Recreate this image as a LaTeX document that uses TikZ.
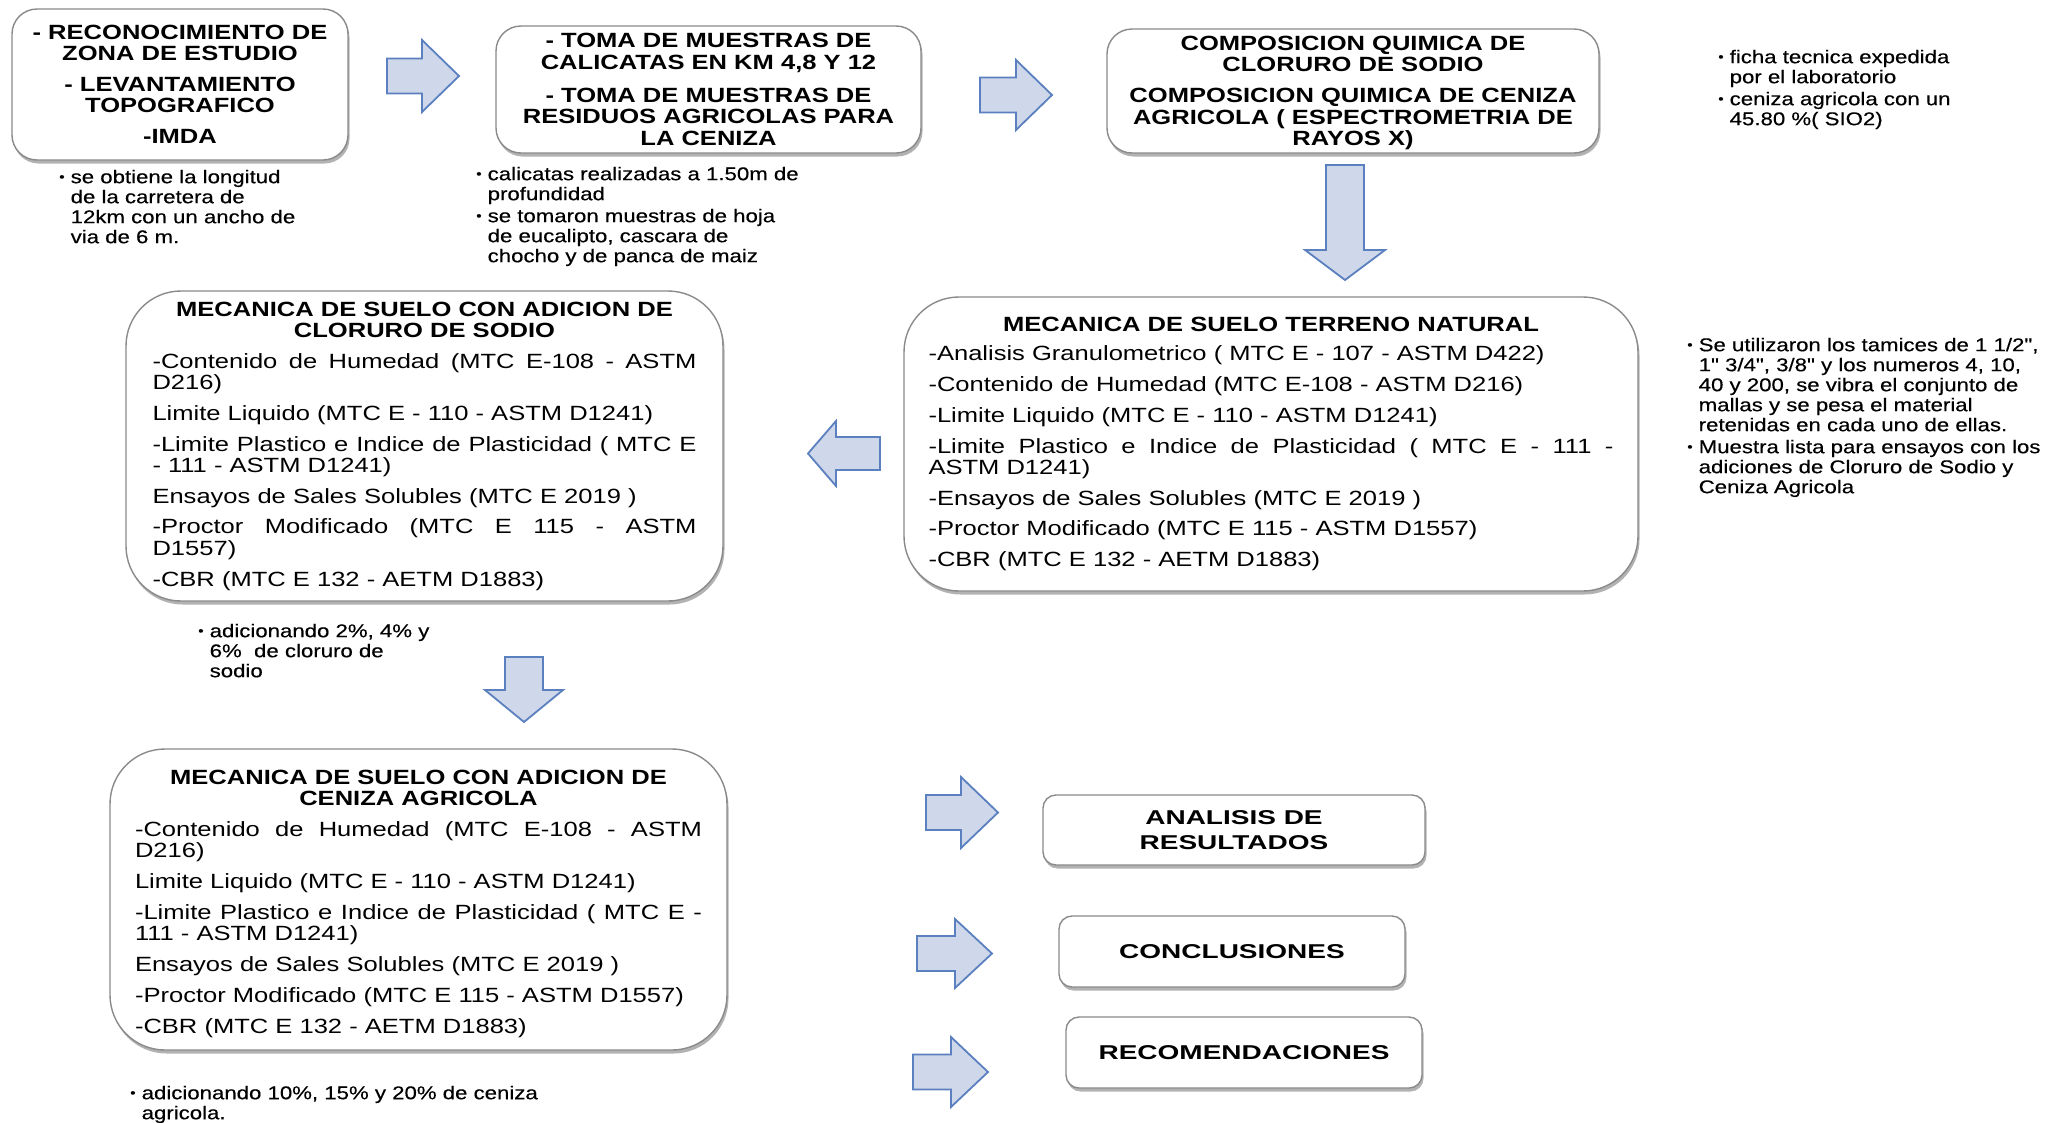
\documentclass[tikz,border=0pt]{standalone}
\usepackage{fontspec}
\setmainfont[FakeStretch=1.24]{Liberation Sans}
\newfontfamily\notefont[FakeStretch=1.2,FakeBold=0.4]{Liberation Sans}
\newfontfamily\widefont[FakeStretch=1.4]{Liberation Sans}
\usetikzlibrary{shadows}
\definecolor{arrfill}{HTML}{CFD8EA}
\definecolor{arrline}{HTML}{5B80BF}
\definecolor{boxline}{HTML}{8A8A8A}
\newcommand\np{\par\vspace{9.5pt}}
\newcommand\bulletbox{\hbox to 11.5pt{\raise2pt\hbox{\fontsize{13}{13}\selectfont\textbullet}\hfil}}
\newcommand\nitem[1]{\par\vskip 2pt\hangindent=11.5pt \hangafter=1 \noindent\bulletbox #1\par}
% right arrow: x0 y0 x1 y1 shaft head
\newcommand\rarrow[6]{\draw[blockarrow] (#1,{(#2+#4)/2-#5/2}) -- ({#3-#6},{(#2+#4)/2-#5/2}) -- ({#3-#6},#2) -- (#3,{(#2+#4)/2}) -- ({#3-#6},#4) -- ({#3-#6},{(#2+#4)/2+#5/2}) -- (#1,{(#2+#4)/2+#5/2}) -- cycle;}
% down arrow
\newcommand\darrow[6]{\draw[blockarrow] ({(#1+#3)/2-#5/2},#2) -- ({(#1+#3)/2+#5/2},#2) -- ({(#1+#3)/2+#5/2},{#4-#6}) -- (#3,{#4-#6}) -- ({(#1+#3)/2},#4) -- (#1,{#4-#6}) -- ({(#1+#3)/2-#5/2},{#4-#6}) -- cycle;}
% left arrow (x0 = tip)
\newcommand\larrow[6]{\draw[blockarrow] (#3,{(#2+#4)/2-#5/2}) -- ({#1+#6},{(#2+#4)/2-#5/2}) -- ({#1+#6},#2) -- (#1,{(#2+#4)/2}) -- ({#1+#6},#4) -- ({#1+#6},{(#2+#4)/2+#5/2}) -- (#3,{(#2+#4)/2+#5/2}) -- cycle;}
\tikzset{
 blockarrow/.style={draw=arrline, fill=arrfill, line width=1.8pt, line join=miter},
 box/.style={draw=boxline, line width=1.4pt, fill=white, inner sep=0pt,
   drop shadow={shadow xshift=1.5pt, shadow yshift=-3.5pt, opacity=0.3, fill=black}},
 topbox/.style={box, rounded corners=25pt, align=center, font=\fontsize{20.6}{21.3}\selectfont\bfseries},
 bigbox/.style={box, rounded corners=55pt, align=justify, font=\fontsize{20.6}{21.3}\selectfont},
 endbox/.style={box, rounded corners=13pt, align=center, font=\widefont\fontsize{20}{24.5}\selectfont\bfseries},
 note/.style={anchor=north west, inner sep=0pt, align=left, text width=430pt,
   font=\notefont\fontsize{18.5}{20}\selectfont},
}
\begin{document}
\begin{tikzpicture}[x=1pt,y=-1pt]
\fill[white] (0,0) rectangle (2072,1122);
\useasboundingbox (0,0) rectangle (2072,1122);

% top row
\node[topbox, minimum width=336pt, minimum height=151pt] (b1) at (180,84.5)
 {- RECONOCIMIENTO DE\\ZONA DE ESTUDIO\\[9.5pt]- LEVANTAMIENTO\\TOPOGRAFICO\\[9.5pt]-IMDA};
\node[topbox, minimum width=425pt, minimum height=127pt] (b2) at (708.5,89.5)
 {- TOMA DE MUESTRAS DE\\CALICATAS EN KM 4,8 Y 12\\[12pt]- TOMA DE MUESTRAS DE\\RESIDUOS AGRICOLAS PARA\\LA CENIZA};
\node[topbox, minimum width=492pt, minimum height=124pt] (b3) at (1353,91)
 {\rule{0pt}{18pt}COMPOSICION QUIMICA DE\\CLORURO DE SODIO\\[10pt]COMPOSICION QUIMICA DE CENIZA\\AGRICOLA ( ESPECTROMETRIA DE\\RAYOS X)};

% middle
\node[bigbox, minimum width=734pt, minimum height=294pt, text width=685pt] (b4) at (1271,444)
 {\hyphenpenalty=10000 \exhyphenpenalty=10000 {\centering\bfseries MECANICA DE SUELO TERRENO NATURAL\par}\par\vspace{8pt}
 -Analisis Granulometrico ( MTC E - 107 - ASTM D422)\np
 -Contenido de Humedad (MTC E-108 - ASTM D216)\np
 -Limite Liquido (MTC E - 110 - ASTM D1241)\np
 -Limite Plastico e Indice de Plasticidad ( MTC E - 111 -\linebreak ASTM D1241)\np
 -Ensayos de Sales Solubles (MTC E 2019 )\np
 -Proctor Modificado (MTC E 115 - ASTM D1557)\np
 -CBR (MTC E 132 - AETM D1883)};
\node[bigbox, minimum width=597pt, minimum height=310pt, text width=544pt] (b5) at (424.5,446)
 {\hyphenpenalty=10000 \exhyphenpenalty=10000 {\centering\bfseries MECANICA DE SUELO CON ADICION DE\\CLORURO DE SODIO\par}\np
 -Contenido de Humedad (MTC E-108 - ASTM\linebreak D216)\np
 Limite Liquido (MTC E - 110 - ASTM D1241)\np
 -Limite Plastico e Indice de Plasticidad ( MTC E\linebreak - 111 - ASTM D1241)\np
 Ensayos de Sales Solubles (MTC E 2019 )\np
 -Proctor Modificado (MTC E 115 - ASTM\linebreak D1557)\np
 -CBR (MTC E 132 - AETM D1883)};
\node[bigbox, minimum width=617pt, minimum height=301pt, text width=567pt] (b6) at (418.5,899.5)
 {\hyphenpenalty=10000 \exhyphenpenalty=10000 {\centering\bfseries\rule{0pt}{23pt}MECANICA DE SUELO CON ADICION DE\\CENIZA AGRICOLA\par}\np
 -Contenido de Humedad (MTC E-108 - ASTM\linebreak D216)\np
 Limite Liquido (MTC E - 110 - ASTM D1241)\np
 -Limite Plastico e Indice de Plasticidad ( MTC E -\linebreak 111 - ASTM D1241)\np
 Ensayos de Sales Solubles (MTC E 2019 )\np
 -Proctor Modificado (MTC E 115 - ASTM D1557)\np
 -CBR (MTC E 132 - AETM D1883)};

% final boxes
\node[endbox, minimum width=382pt, minimum height=70pt] (r1) at (1234,830) {ANALISIS DE\\RESULTADOS};
\node[endbox, minimum width=346pt, minimum height=71pt] (r2) at (1232,951.5) {CONCLUSIONES};
\node[endbox, minimum width=356pt, minimum height=71pt] (r3) at (1244,1052.5) {RECOMENDACIONES};

% block arrows
\rarrow{387}{40}{459}{112}{35}{37}
\rarrow{980}{60}{1052}{130}{35}{36}
\darrow{1305}{165}{1385}{280}{38}{30}
\larrow{808}{421}{880}{486}{33}{28}
\darrow{485}{657}{563}{722}{38}{32}
\rarrow{926}{777}{998}{848}{35}{37}
\rarrow{917}{919}{992}{988}{35}{37}
\rarrow{913}{1037}{988}{1107}{35}{37}

% notes
\node[note] (n1) at (59,161) {\nitem{se obtiene la longitud\newline de la carretera de\newline 12km con un ancho de\newline via de 6 m.}};
\node[note] (n2) at (476,158) {\nitem{calicatas realizadas a 1.50m de\newline profundidad}\nitem{se tomaron muestras de hoja\newline de eucalipto, cascara de\newline chocho y de panca de maiz}};
\node[note] (n3) at (1718,41) {\nitem{ficha tecnica expedida\newline por el laboratorio}\nitem{ceniza agricola con un\newline 45.80 \%( SIO2)}};
\node[note, text width=380pt] (n4) at (1687,329) {\nitem{Se utilizaron los tamices de 1 1/2",\newline 1" 3/4", 3/8" y los numeros 4, 10,\newline 40 y 200, se vibra el conjunto de\newline mallas y se pesa el material\newline retenidas en cada uno de ellas.}\nitem{Muestra lista para ensayos con los\newline adiciones de Cloruro de Sodio y\newline Ceniza Agricola}};
\node[note] (n5) at (198,615) {\nitem{adicionando 2\%, 4\% y\newline 6\%\ \ de cloruro de\newline sodio}};
\node[note] (n6) at (130,1077) {\nitem{adicionando 10\%, 15\% y 20\% de ceniza\newline agricola.}};
\end{tikzpicture}
\end{document}
